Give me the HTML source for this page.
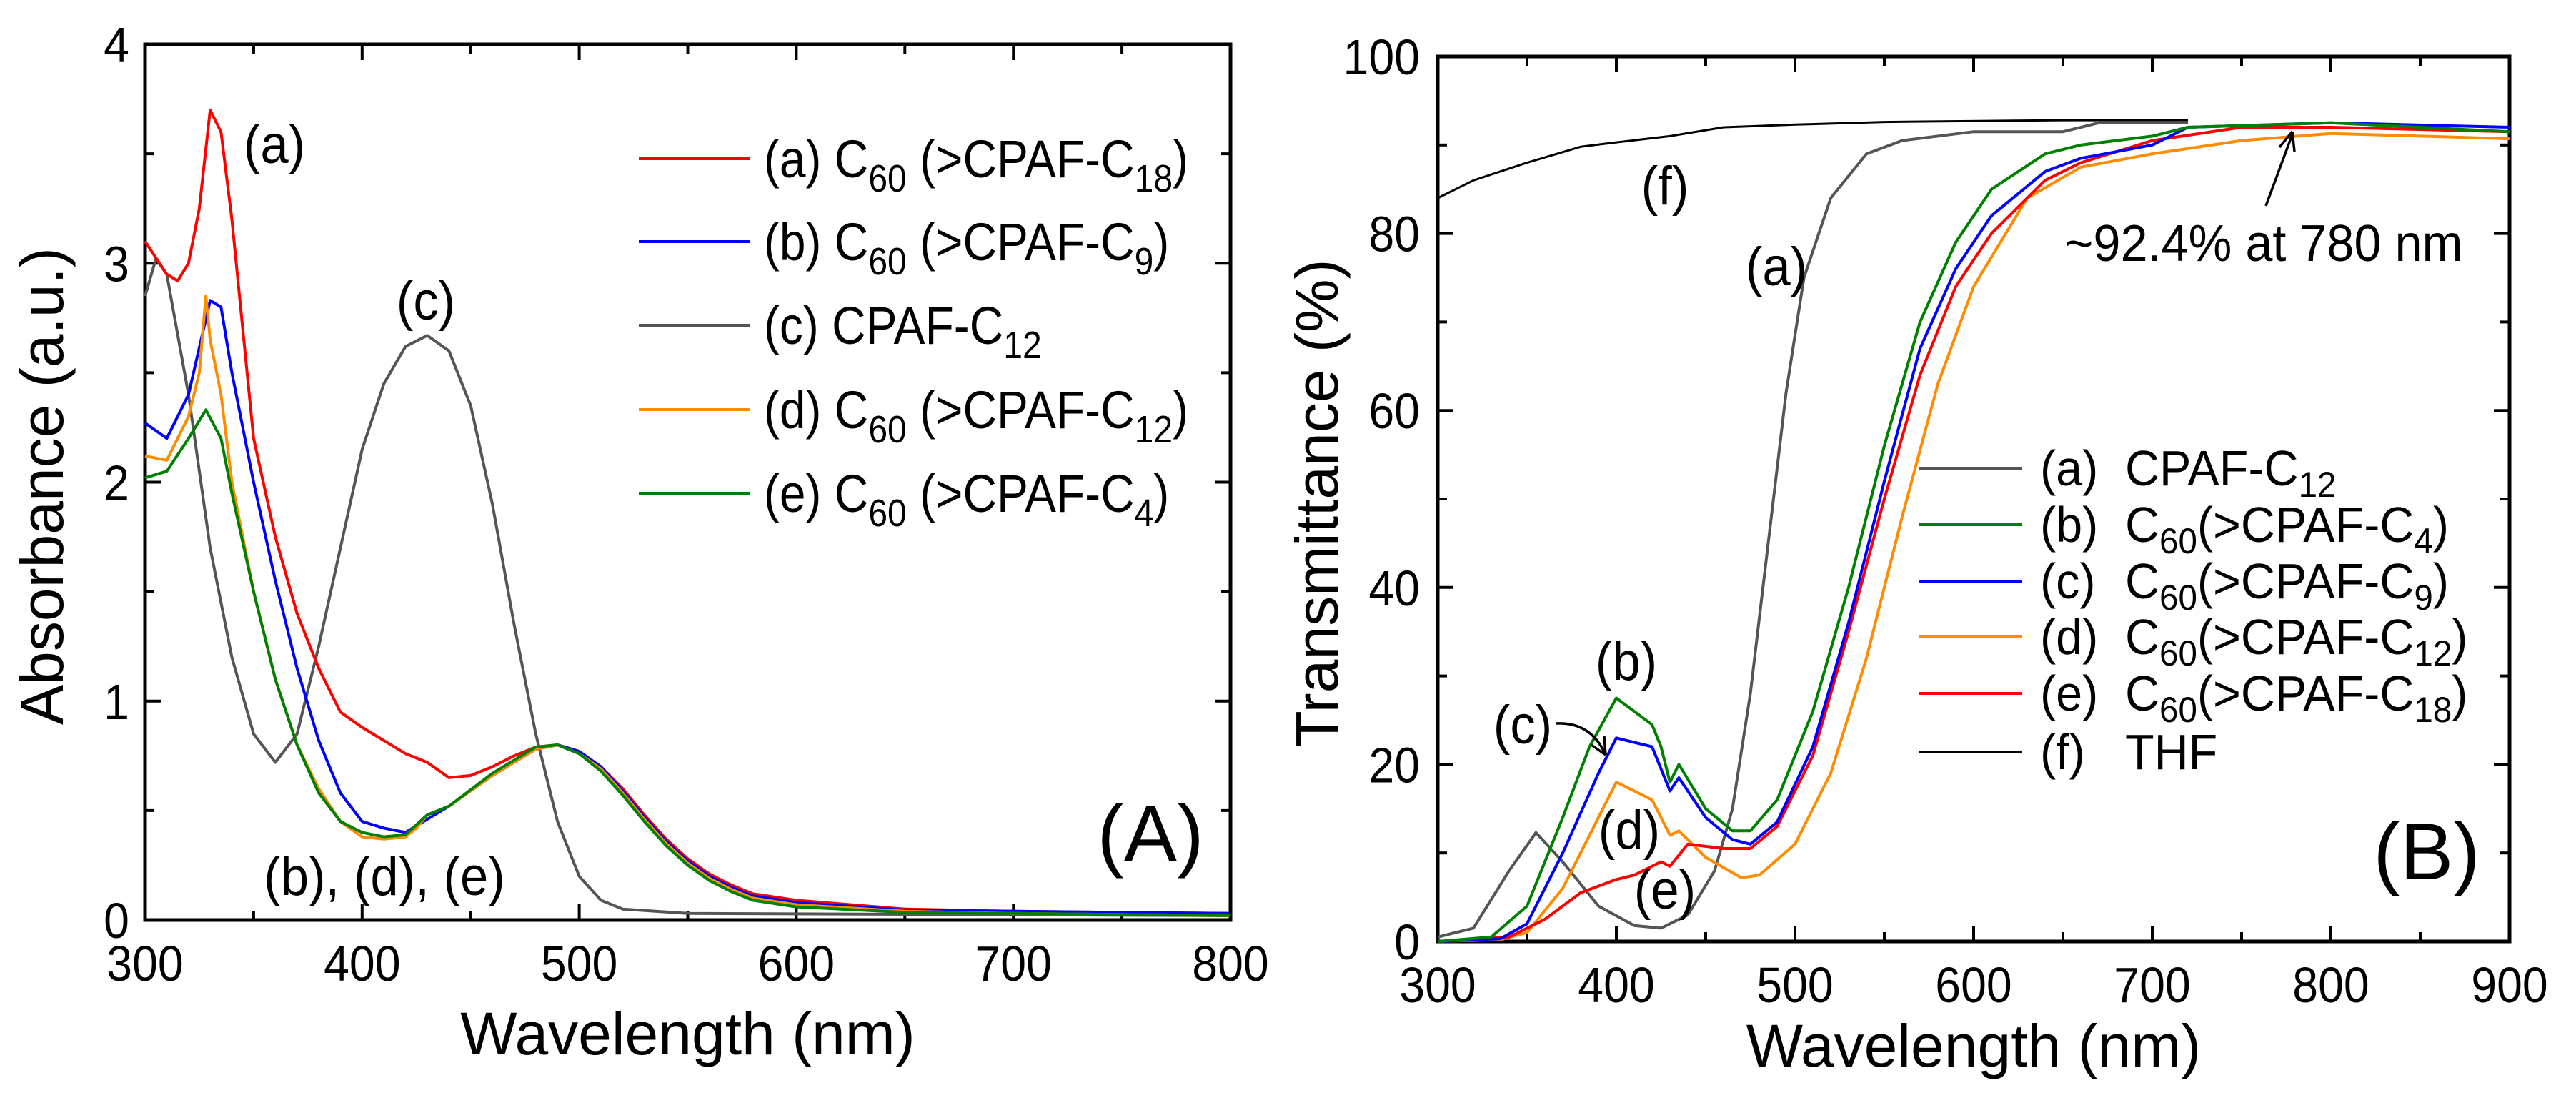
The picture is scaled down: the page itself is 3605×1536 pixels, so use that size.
<!DOCTYPE html>
<html><head><meta charset="utf-8"><style>
html,body{margin:0;padding:0;background:#fff}
svg{display:block;font-family:"Liberation Sans",Arial,sans-serif}
</style></head><body>
<svg id="fig" width="3605" height="1536" viewBox="0 0 3605 1536" xmlns="http://www.w3.org/2000/svg"></svg>
<script>
// ---------- Panel A data (absorbance) ----------
const aRedX = [300,310,315,320,325,330,335,340,345,350,360,370,380,390,400,410,420,430,440,450,460,470,480,490,500,510,520,530,540,550,560,570,580,600,650,700,800];
const aRedY = [3.1,2.95,2.92,3.0,3.25,3.7,3.6,3.2,2.7,2.2,1.75,1.4,1.15,0.95,0.88,0.82,0.76,0.72,0.65,0.66,0.7,0.75,0.79,0.8,0.77,0.7,0.6,0.48,0.37,0.28,0.21,0.16,0.12,0.09,0.05,0.04,0.03];
const aBlueX = [300,310,320,330,335,340,350,360,370,380,390,400,410,420,430,440,460,480,490,500,510,520,530,540,550,560,570,580,600,650,700,800];
const aBlueY = [2.27,2.2,2.4,2.83,2.8,2.5,2.0,1.55,1.15,0.82,0.58,0.45,0.42,0.4,0.46,0.52,0.66,0.78,0.8,0.77,0.7,0.59,0.47,0.36,0.27,0.2,0.15,0.11,0.08,0.045,0.04,0.03];
const aGrayX = [300,305,310,320,330,340,350,360,370,380,390,400,410,420,430,440,450,460,470,480,490,500,510,520,550,800];
const aGrayY = [2.85,3.02,2.95,2.4,1.7,1.2,0.85,0.72,0.85,1.25,1.7,2.15,2.45,2.62,2.67,2.6,2.35,1.9,1.35,0.85,0.45,0.2,0.09,0.05,0.03,0.02];
const aOrangeX = [300,310,320,325,328,330,335,340,350,360,370,380,390,400,410,420,425,430,440,460,480,490,500,510,520,530,540,550,560,570,580,600,650,700,800];
const aOrangeY = [2.12,2.1,2.3,2.5,2.85,2.65,2.4,2.0,1.5,1.1,0.8,0.6,0.45,0.38,0.37,0.38,0.42,0.48,0.52,0.66,0.78,0.8,0.76,0.69,0.58,0.46,0.35,0.26,0.19,0.14,0.1,0.07,0.04,0.03,0.02];
const aGreenX = [300,310,320,328,335,340,350,360,370,380,390,400,410,420,430,440,460,480,490,500,510,520,530,540,550,560,570,580,600,650,700,800];
const aGreenY = [2.02,2.05,2.2,2.33,2.2,1.95,1.5,1.1,0.8,0.58,0.45,0.4,0.38,0.39,0.48,0.52,0.67,0.79,0.8,0.76,0.68,0.57,0.45,0.34,0.25,0.18,0.13,0.09,0.06,0.035,0.03,0.02];
const aXTicks = [300,400,500,600,700,800];
const aYTicks = [0,1,2,3,4];

// ---------- Panel B data (transmittance) ----------
const bGrayX = [300,320,340,355,370,390,410,425,440,455,465,475,485,495,505,520,540,560,600,650,670,720];
const bGrayY = [0.5,1.5,8,12.3,9,4,1.8,1.5,3,8,15,28,45,62,75,84,89,90.5,91.5,91.5,92.5,92.5];
const bGreenX = [300,330,350,370,385,400,410,420,425,430,435,450,465,475,490,510,530,550,570,590,610,640,660,700,720,800,900];
const bGreenY = [0,0.5,4,14,22,27.5,26,24.5,22,18,20,15,12.5,12.5,16,26,40,56,70,79,85,89,90,91,92,92.5,91.5];
const bBlueX = [300,335,350,370,390,400,410,420,430,435,450,465,475,490,510,530,550,570,590,610,640,660,700,720,800,900];
const bBlueY = [0,0.3,2,10,19,23,22.5,22,17,18.5,14,11.5,11,13.5,22,36,52,67,76,82,87,88.5,90,92,92.5,92];
const bOrangeX = [300,335,350,370,390,400,410,420,430,435,450,470,480,500,520,540,560,580,600,630,660,700,750,800,900];
const bOrangeY = [0,0.2,1,6,14,18,17,16,12,12.5,9.5,7.2,7.5,11,19,32,48,63,74,84,87.5,89,90.5,91.3,90.7];
const bRedX = [300,340,360,380,400,410,425,430,440,460,475,490,510,530,550,570,590,610,640,660,700,750,800,900];
const bRedY = [0,0.5,2.5,5.5,7,7.5,9,8.5,11,10.5,10.5,13,21,35,50,64,74,80,86,88,90.5,92,92,91.5];
const bThfX = [300,320,350,380,400,430,460,500,550,650,720];
const bThfY = [84,86,88,89.8,90.3,91,92,92.3,92.6,92.8,92.8];
const bXTicks = [300,400,500,600,700,800,900];
const bYTicks = [0,20,40,60,80,100];

const NS = "http://www.w3.org/2000/svg";
const svg = document.getElementById('fig');
function mk(tag, attrs, parent) {
  const e = document.createElementNS(NS, tag);
  for (const k in attrs) e.setAttribute(k, attrs[k]);
  (parent || svg).appendChild(e);
  return e;
}
function axis(x0,x1,y0,y1,L,R,T,B){
  return {sx: v => L + (v - x0) / (x1 - x0) * (R - L), sy: v => B - (v - y0) / (y1 - y0) * (B - T)};
}
function curve(ax, xs, ys, color, w, name){
  let d = '';
  xs.forEach((x,i)=>{ d += (i?'L':'M') + ax.sx(x).toFixed(1) + ' ' + ax.sy(ys[i]).toFixed(1); });
  const p = mk('path', {d:d, fill:'none', stroke:color, 'stroke-width':w, 'stroke-linejoin':'round'});
  
  
}
function text(x,y,str,size,anchor,name,sx){
  const t = mk('text', {x:0, y:0, 'font-size':size, 'text-anchor':anchor||'start', fill:'#000',
    transform:`translate(${x},${y}) scale(${sx||1},1)`});
  t.innerHTML = str;
  
  
  return t;
}
function rtext(x,y,str,size,name){
  const t = mk('text', {x:0, y:0, 'font-size':size, 'text-anchor':'middle', fill:'#000',
    transform:`translate(${x},${y}) rotate(-90)`});
  t.innerHTML = str;
  
  
}
function frame(ax,L,R,T,B,xt,xminor,yt,yminor,name){
  const g = mk('g', {});
  
  
  mk('rect', {x:L, y:T, width:R-L, height:B-T, fill:'none', stroke:'#000', 'stroke-width':5}, g);
  const tk = (x1,y1,x2,y2) => mk('line', {x1:x1,y1:y1,x2:x2,y2:y2,stroke:'#000','stroke-width':4}, g);
  xt.forEach(v=>{ const x=ax.sx(v); tk(x,B,x,B-22); tk(x,T,x,T+22); });
  xminor.forEach(v=>{ const x=ax.sx(v); tk(x,B,x,B-13); tk(x,T,x,T+13); });
  yt.forEach(v=>{ const y=ax.sy(v); tk(L,y,L+22,y); tk(R,y,R-22,y); });
  yminor.forEach(v=>{ const y=ax.sy(v); tk(L,y,L+13,y); tk(R,y,R-13,y); });
}
const sub = (s, after, fs, dy) => `<tspan dy="${dy}" font-size="${fs}">${s}</tspan><tspan dy="-${dy}">${after}</tspan>`;
const subA = (s, after) => sub(s, after, 54, 20);
const subB = (s, after) => sub(s, after, 50, 16);

// ---------- Panel A ----------
const AL=203, AR=1722, AT=62, AB=1287;
const axA = axis(300,800,0,4,AL,AR,AT,AB);
frame(axA,AL,AR,AT,AB,aXTicks,[350,450,550,650,750],aYTicks,[0.5,1.5,2.5,3.5],'panel-a-frame');
aXTicks.forEach(v=>text(axA.sx(v), AB+85, v, 70, 'middle', 'x-tick-label-a', 0.92));
aYTicks.forEach(v=>text(AL-22, axA.sy(v)+25, v, 70, 'end', 'y-tick-label-a', 0.92));
text((AL+AR)/2, 1475, 'Wavelength (nm)', 84, 'middle', 'x-axis-title-a');
rtext(88, 680, 'Absorbance (a.u.)', 84, 'y-axis-title-a');
curve(axA, aGrayX, aGrayY, '#555555', 4, 'curve-a-c-cpaf');
curve(axA, aRedX, aRedY, '#ff0000', 4, 'curve-a-a-c18');
curve(axA, aBlueX, aBlueY, '#0000ff', 4, 'curve-a-b-c9');
curve(axA, aOrangeX, aOrangeY, '#ff8c00', 4, 'curve-a-d-c12');
curve(axA, aGreenX, aGreenY, '#008000', 4, 'curve-a-e-c4');
const legA = [['#ff0000','(a) C'+subA('60',' (&gt;CPAF-C')+subA('18',')')],
  ['#0000ff','(b) C'+subA('60',' (&gt;CPAF-C')+subA('9',')')],
  ['#555555','(c) CPAF-C'+subA('12','')],
  ['#ff8c00','(d) C'+subA('60',' (&gt;CPAF-C')+subA('12',')')],
  ['#008000','(e) C'+subA('60',' (&gt;CPAF-C')+subA('4',')')]];
const legAY = [222,338,455,573,690];
legA.forEach((r,i)=>{
  const l = mk('line',{x1:894,x2:1050,y1:legAY[i],y2:legAY[i],stroke:r[0],'stroke-width':4});
  
  
  text(1069, legAY[i]+26, r[1], 74, 'start', 'legend-a-entry', 0.89);
});
text(384, 228, '(a)', 76, 'middle', 'annotation-a', 0.93);
text(596, 447, '(c)', 76, 'middle', 'annotation-c', 0.93);
text(538, 1252, '(b), (d), (e)', 76, 'middle', 'annotation-bde', 0.93);
text(1610, 1205, '(A)', 112, 'middle', 'panel-label-a');

// ---------- Panel B ----------
const BL=2012, BR=3512, BT=79, BB=1317;
const axB = axis(300,900,0,100,BL,BR,BT,BB);
frame(axB,BL,BR,BT,BB,bXTicks,[350,450,550,650,750,850],bYTicks,[10,30,50,70,90],'panel-b-frame');
bXTicks.forEach(v=>text(axB.sx(v), BB+85, v, 70, 'middle', 'x-tick-label-b', 0.92));
bYTicks.forEach(v=>text(BL-25, axB.sy(v)+25, v, 70, 'end', 'y-tick-label-b', 0.92));
text((BL+BR)/2, 1492, 'Wavelength (nm)', 84, 'middle', 'x-axis-title-b');
rtext(1872, 704, 'Transmittance (%)', 84, 'y-axis-title-b');
curve(axB, bThfX, bThfY, '#000000', 3, 'curve-b-f-thf');
curve(axB, bGrayX, bGrayY, '#555555', 4, 'curve-b-a-cpaf');
curve(axB, bOrangeX, bOrangeY, '#ff8c00', 4, 'curve-b-d-c12');
curve(axB, bRedX, bRedY, '#ff0000', 4, 'curve-b-e-c18');
curve(axB, bBlueX, bBlueY, '#0000ff', 4, 'curve-b-c-c9');
curve(axB, bGreenX, bGreenY, '#008000', 4, 'curve-b-b-c4');
const legB = [['#555555','(a)','CPAF-C'+subB('12','')],
  ['#008000','(b)','C'+subB('60','(&gt;CPAF-C')+subB('4',')')],
  ['#0000ff','(c)','C'+subB('60','(&gt;CPAF-C')+subB('9',')')],
  ['#ff8c00','(d)','C'+subB('60','(&gt;CPAF-C')+subB('12',')')],
  ['#ff0000','(e)','C'+subB('60','(&gt;CPAF-C')+subB('18',')')],
  ['#000000','(f)','THF']];
const legBY = [655,734,813,891,970,1052];
legB.forEach((r,i)=>{
  const l = mk('line',{x1:2685,x2:2830,y1:legBY[i],y2:legBY[i],stroke:r[0],'stroke-width':i==5?3:4});
  
  
  text(2855, legBY[i]+24, r[1], 70, 'start', 'legend-b-key', 0.95);
  text(2974, legBY[i]+24, r[2], 70, 'start', 'legend-b-entry', 0.95);
});
text(2330, 286, '(f)', 76, 'middle', 'annotation-f', 0.93);
text(2486, 399, '(a)', 76, 'middle', 'annotation-a-b', 0.93);
text(3168, 365, '~92.4% at 780 nm', 72, 'middle', 'annotation-92-4', 0.95);
const arr1 = mk('path',{d:'M3171 288 L3208 188 M3208 184 l-18 22 M3208 184 l3 28', fill:'none', stroke:'#000','stroke-width':3.5});


text(2276, 951, '(b)', 76, 'middle', 'annotation-b', 0.93);
text(2131, 1040, '(c)', 76, 'middle', 'annotation-c-b', 0.93);
const arr2 = mk('path',{d:'M2178 1012 Q2225 1010 2245 1052 M2247 1056 l-2 -26 M2247 1056 l-20 -14', fill:'none', stroke:'#000','stroke-width':3.5});


text(2280, 1187, '(d)', 76, 'middle', 'annotation-d', 0.93);
text(2330, 1271, '(e)', 76, 'middle', 'annotation-e', 0.93);
text(3396, 1230, '(B)', 112, 'middle', 'panel-label-b');
</script>
</body></html>
